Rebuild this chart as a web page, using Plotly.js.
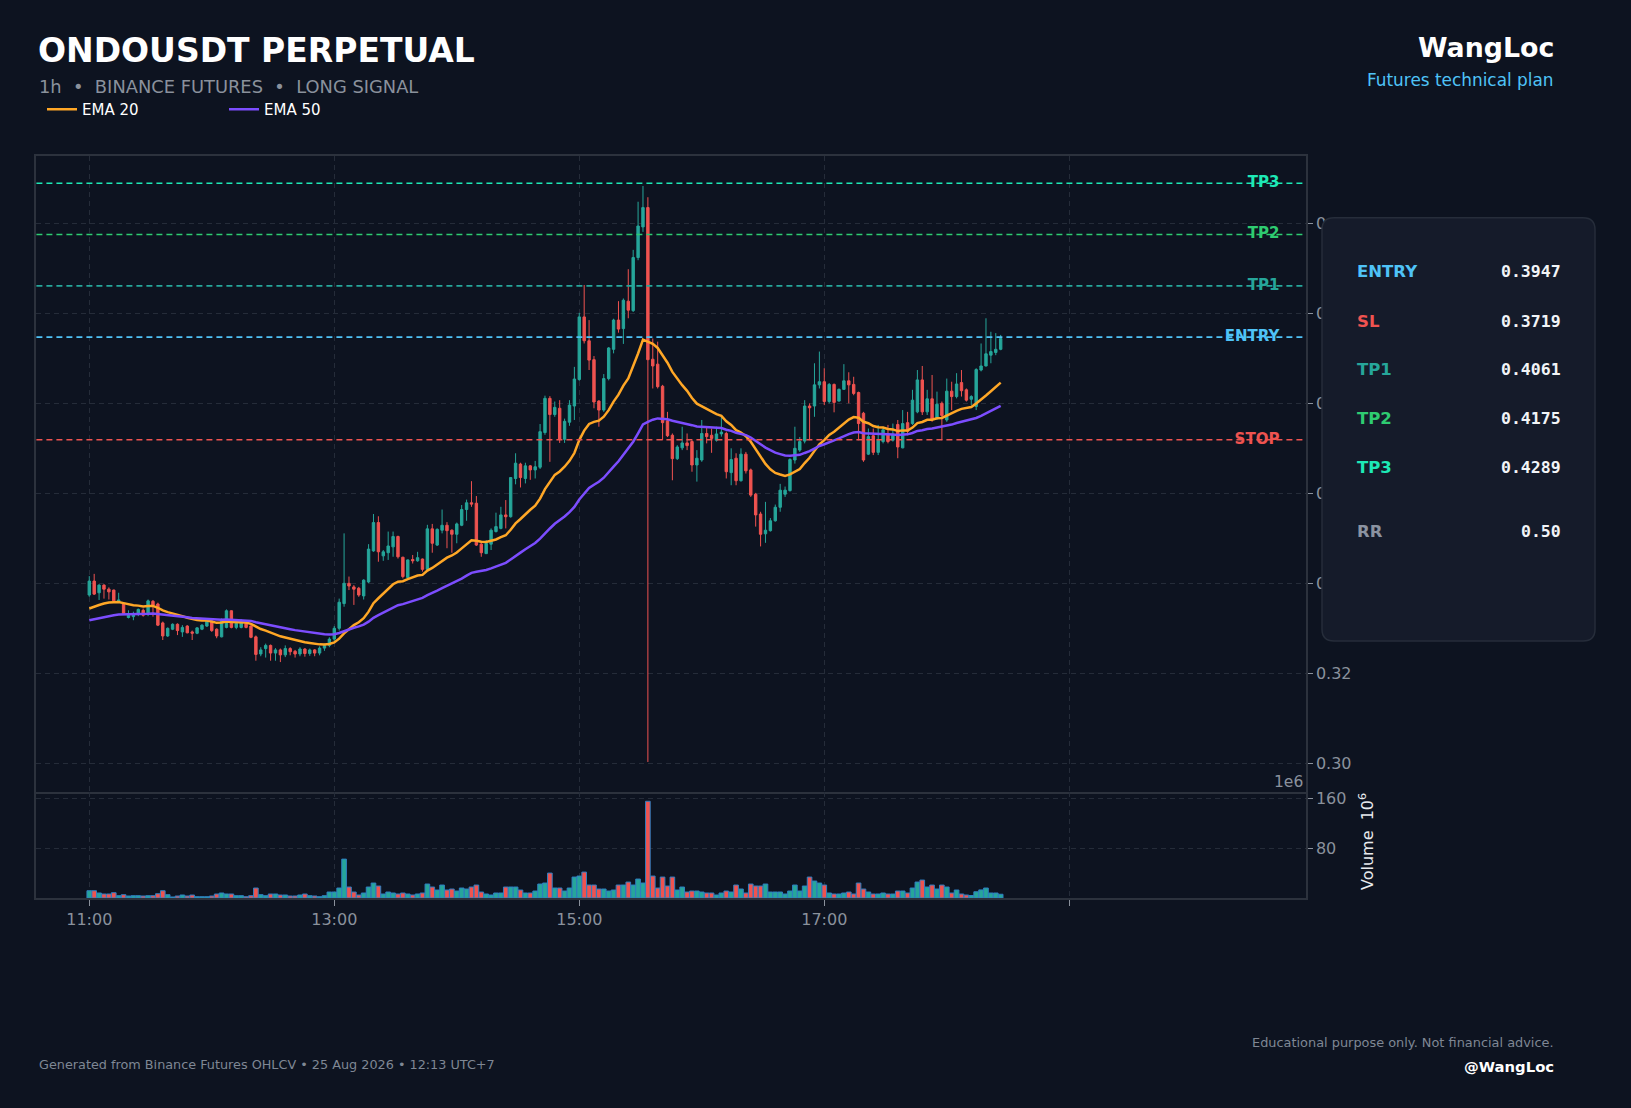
<!DOCTYPE html>
<html>
<head>
<meta charset="utf-8">
<script src="https://cdn.plot.ly/plotly-3.0.1.min.js"></script>
<style>
html,body{margin:0;padding:0;background:#0d1320;}
#chart{width:1631px;height:1108px;}
</style>
</head>
<body>
<div id="chart"></div>
<script>
// ---------------- DATA ----------------
const openP = [0.3374,0.3405,0.3379,0.3396,0.3387,0.3385,0.3360,0.3354,0.3324,0.3326,
0.3333,0.3340,0.3332,0.3360,0.3354,0.3312,0.3283,0.3298,0.3309,0.3292,
0.3305,0.3292,0.3289,0.3298,0.3305,0.3316,0.3298,0.3281,0.3302,0.3339,
0.3302,0.3302,0.3311,0.3305,0.3281,0.3243,0.3255,0.3262,0.3245,0.3252,
0.3241,0.3255,0.3249,0.3243,0.3254,0.3244,0.3252,0.3245,0.3256,0.3262,
0.3276,0.3300,0.3355,0.3400,0.3392,0.3389,0.3372,0.3403,0.3472,0.3535,
0.3461,0.3468,0.3481,0.3504,0.3458,0.3413,0.3453,0.3450,0.3454,0.3431,
0.3521,0.3485,0.3518,0.3529,0.3518,0.3509,0.3529,0.3564,0.3579,0.3578,
0.3487,0.3466,0.3487,0.3515,0.3522,0.3552,0.3548,0.3633,0.3665,0.3633,
0.3661,0.3652,0.3658,0.3735,0.3811,0.3775,0.3789,0.3720,0.3758,0.3794,
0.3853,0.3992,0.3939,0.3897,0.3805,0.3785,0.3855,0.3920,0.3985,0.3966,
0.4027,0.4006,0.4124,0.4192,0.4235,0.3898,0.3887,0.3838,0.3761,0.3729,
0.3677,0.3701,0.3712,0.3715,0.3663,0.3674,0.3733,0.3729,0.3718,0.3732,
0.3733,0.3646,0.3678,0.3628,0.3687,0.3652,0.3598,0.3554,0.3510,0.3517,
0.3539,0.3569,0.3598,0.3606,0.3674,0.3696,0.3716,0.3794,0.3794,0.3841,
0.3848,0.3804,0.3842,0.3805,0.3831,0.3850,0.3842,0.3824,0.3778,0.3687,
0.3728,0.3691,0.3715,0.3733,0.3718,0.3753,0.3701,0.3757,0.3755,0.3781,
0.3852,0.3781,0.3810,0.3768,0.3800,0.3763,0.3827,0.3815,0.3846,0.3830,
0.3809,0.3793,0.3874,0.3883,0.3907,0.3913,0.3920];
const highP = [0.3416,0.3421,0.3398,0.3398,0.3391,0.3386,0.3379,0.3357,0.3340,0.3337,
0.3344,0.3344,0.3364,0.3363,0.3357,0.3315,0.3302,0.3311,0.3311,0.3307,
0.3307,0.3295,0.3302,0.3309,0.3320,0.3318,0.3300,0.3322,0.3342,0.3340,
0.3315,0.3320,0.3315,0.3307,0.3284,0.3258,0.3266,0.3264,0.3256,0.3255,
0.3262,0.3258,0.3252,0.3258,0.3256,0.3255,0.3254,0.3260,0.3266,0.3280,
0.3305,0.3366,0.3511,0.3415,0.3396,0.3392,0.3409,0.3487,0.3554,0.3549,
0.3474,0.3515,0.3515,0.3506,0.3459,0.3453,0.3463,0.3470,0.3455,0.3530,
0.3532,0.3522,0.3564,0.3536,0.3520,0.3535,0.3574,0.3586,0.3627,0.3594,
0.3492,0.3496,0.3522,0.3557,0.3570,0.3585,0.3636,0.3689,0.3668,0.3668,
0.3663,0.3672,0.3754,0.3817,0.3816,0.3804,0.3807,0.3766,0.3807,0.3881,
0.4001,0.4063,0.3985,0.3905,0.3807,0.3865,0.3925,0.3988,0.4027,0.4033,
0.4098,0.4141,0.4248,0.4283,0.4258,0.3944,0.3937,0.3841,0.3781,0.3733,
0.3707,0.3748,0.3733,0.3718,0.3696,0.3763,0.3748,0.3744,0.3748,0.3772,
0.3737,0.3700,0.3689,0.3700,0.3692,0.3655,0.3601,0.3559,0.3581,0.3545,
0.3575,0.3621,0.3615,0.3678,0.3748,0.3725,0.3807,0.3800,0.3889,0.3915,
0.3878,0.3845,0.3844,0.3833,0.3887,0.3869,0.3859,0.3826,0.3781,0.3744,
0.3744,0.3752,0.3748,0.3752,0.3755,0.3763,0.3785,0.3781,0.3830,0.3874,
0.3883,0.3830,0.3863,0.3826,0.3804,0.3855,0.3848,0.3867,0.3874,0.3833,
0.3818,0.3878,0.3933,0.3989,0.3959,0.3956,0.3952];
const lowP = [0.3370,0.3374,0.3363,0.3366,0.3364,0.3359,0.3357,0.3332,0.3322,0.3318,
0.3327,0.3326,0.3327,0.3326,0.3305,0.3274,0.3281,0.3296,0.3285,0.3281,
0.3289,0.3274,0.3287,0.3296,0.3303,0.3292,0.3278,0.3280,0.3300,0.3300,
0.3298,0.3300,0.3300,0.3278,0.3228,0.3238,0.3235,0.3228,0.3228,0.3225,
0.3236,0.3240,0.3235,0.3238,0.3237,0.3239,0.3238,0.3240,0.3250,0.3258,
0.3272,0.3295,0.3348,0.3385,0.3352,0.3370,0.3364,0.3400,0.3470,0.3448,
0.3450,0.3452,0.3459,0.3455,0.3411,0.3411,0.3444,0.3448,0.3426,0.3429,
0.3468,0.3483,0.3511,0.3478,0.3468,0.3489,0.3527,0.3539,0.3570,0.3483,
0.3459,0.3465,0.3474,0.3513,0.3520,0.3522,0.3546,0.3620,0.3613,0.3622,
0.3630,0.3633,0.3654,0.3730,0.3670,0.3770,0.3712,0.3712,0.3750,0.3763,
0.3850,0.3933,0.3874,0.3789,0.3748,0.3781,0.3851,0.3911,0.3957,0.3932,
0.3989,0.4003,0.4118,0.4181,0.3003,0.3833,0.3833,0.3718,0.3725,0.3629,
0.3674,0.3696,0.3696,0.3648,0.3626,0.3670,0.3711,0.3690,0.3715,0.3726,
0.3633,0.3618,0.3618,0.3626,0.3644,0.3592,0.3526,0.3482,0.3490,0.3515,
0.3537,0.3559,0.3592,0.3604,0.3666,0.3692,0.3711,0.3718,0.3770,0.3833,
0.3796,0.3800,0.3780,0.3804,0.3830,0.3800,0.3818,0.3718,0.3670,0.3685,
0.3685,0.3685,0.3711,0.3711,0.3715,0.3678,0.3700,0.3729,0.3752,0.3778,
0.3774,0.3774,0.3759,0.3763,0.3718,0.3759,0.3785,0.3811,0.3815,0.3804,
0.3796,0.3785,0.3871,0.3882,0.3889,0.3907,0.3918];
const closeP = [0.3405,0.3376,0.3396,0.3387,0.3381,0.3361,0.3363,0.3333,0.3329,0.3332,
0.3342,0.3329,0.3361,0.3351,0.3307,0.3283,0.3300,0.3309,0.3295,0.3302,
0.3290,0.3289,0.3301,0.3307,0.3318,0.3295,0.3283,0.3318,0.3339,0.3302,
0.3311,0.3318,0.3302,0.3280,0.3242,0.3252,0.3262,0.3245,0.3252,0.3241,
0.3255,0.3248,0.3243,0.3254,0.3244,0.3252,0.3245,0.3256,0.3262,0.3276,
0.3300,0.3358,0.3400,0.3394,0.3387,0.3374,0.3407,0.3476,0.3535,0.3470,
0.3470,0.3483,0.3504,0.3459,0.3415,0.3452,0.3450,0.3457,0.3431,0.3521,
0.3489,0.3520,0.3529,0.3517,0.3509,0.3532,0.3564,0.3579,0.3576,0.3485,
0.3468,0.3489,0.3518,0.3526,0.3552,0.3548,0.3635,0.3667,0.3635,0.3661,
0.3652,0.3659,0.3737,0.3811,0.3775,0.3791,0.3720,0.3760,0.3796,0.3854,
0.3992,0.3939,0.3896,0.3803,0.3785,0.3855,0.3923,0.3985,0.3965,0.4029,
0.4007,0.4124,0.4194,0.4235,0.3897,0.3883,0.3837,0.3757,0.3728,0.3677,
0.3703,0.3712,0.3706,0.3663,0.3678,0.3733,0.3726,0.3722,0.3732,0.3736,
0.3648,0.3675,0.3628,0.3687,0.3650,0.3596,0.3552,0.3509,0.3518,0.3539,
0.3569,0.3607,0.3607,0.3675,0.3700,0.3715,0.3794,0.3790,0.3841,0.3848,
0.3804,0.3842,0.3802,0.3831,0.3850,0.3841,0.3822,0.3755,0.3674,0.3726,
0.3691,0.3718,0.3741,0.3715,0.3731,0.3703,0.3755,0.3738,0.3807,0.3852,
0.3781,0.3810,0.3765,0.3798,0.3773,0.3827,0.3815,0.3843,0.3828,0.3807,
0.3815,0.3875,0.3883,0.3910,0.3915,0.3920,0.3944];
// volume in millions
const volumeM = [11.7,11.7,8,6.4,6.4,8.5,3.7,5.3,3.2,3.7,
3.7,3.2,3.7,3.7,6.9,11.7,5.3,1.6,3.2,4.8,
3.2,4.8,2.1,2.1,2.1,3.2,6.4,8,6.4,6.4,
3.7,3.7,2.1,3.7,16,5.3,3.7,6.4,6.4,4.8,
4.8,3.2,3.2,4.8,6.4,3.7,3.2,2.1,3.7,9.6,
9.6,16,62.4,17.6,9.6,4.8,8,17.6,24,19.2,
6.4,9.6,8,6.4,8,6.4,4.8,6.4,8,22.4,
17.6,12.8,20.8,12.8,14.4,11.2,16,14.4,17.6,20.8,
9.6,6.4,4.8,8,8,17.6,17.6,17.6,12.8,8,
8,11.2,22.4,24,40,16,16,11.2,16,33.6,
35.2,41.6,20.8,20.8,14.4,14.4,11.2,12.8,20.8,20.8,
25.6,20.8,30.4,24,155.2,35.2,16,33.6,19.2,33.6,
12.8,17.6,9.6,11.2,11.2,9.6,8,8,4.8,8,
11.2,9.6,20.8,14.4,8,22.4,19.2,19.2,22.4,9.6,
9.6,9.6,6.4,11.2,20.8,11.2,19.2,33.6,27.2,24,
20.8,8,6.4,6.4,8,9.6,6.4,24,14.4,9.6,
6.4,6.4,8,6.4,6.4,11.2,11.2,8,16,25.6,
28.8,17.6,20.8,14.4,20.8,17.6,8,12.8,6.4,4.8,
4,10,13,16,8,8,6];
// EMA values just before the visible window (read at the left edge)
const ema20Start = 0.3344;
const ema50Start = 0.3318;

// Trade levels
const levelNames  = ['TP3','TP2','TP1','ENTRY','STOP'];
const levelValues = [0.4289, 0.4175, 0.4061, 0.3947, 0.3719];
// Info panel
const panelLabels = ['ENTRY','SL','TP1','TP2','TP3','RR'];
const panelValues = ['0.3947','0.3719','0.4061','0.4175','0.4289','0.50'];
// Axis ticks
const priceTicks = [0.30,0.32,0.34,0.36,0.38,0.40,0.42];
const volTicks = [80,160];
const hourTickLabels = ['11:00','13:00','15:00','17:00',''];
const hourTickTimes = ['2026-08-25 11:00:00','2026-08-25 13:00:00','2026-08-25 15:00:00','2026-08-25 17:00:00','2026-08-25 19:00:00'];

// ---------------- BUILD ----------------
const t0 = Date.UTC(2026,7,25,11,0,0);
const stepMs = 144000; // one bar
function fmt(ms){ return new Date(ms).toISOString().slice(0,19).replace('T',' '); }
const times = openP.map((_, i) => fmt(t0 + i*stepMs));

function ema(src, start, n){
  const a = 2/(n+1); const out = []; let prev = start;
  for (let i=0;i<src.length;i++){ prev = (i===0) ? start : prev + a*(src[i]-prev); out.push(prev); }
  return out;
}
const ema20 = ema(closeP, ema20Start, 20);
const ema50 = ema(closeP, ema50Start, 50);

const UP = '#26a69a', DOWN = '#ef5350';
const levelColors = ['#1de9b6','#2ecc71','#26a69a','#4fc3f7','#ef5350'];
const panelColors = ['#4fc3f7','#ef5350','#26a69a','#2ecc71','#1de9b6','#8b93a1'];
const volColors = closeP.map((c,i) => c >= openP[i] ? UP : DOWN);

const BG = '#0d1320', GRID = '#252c39', FRAME = '#2c323d', TICK = '#8a919c';
const W = 1631, H = 1108;
const px = v => v / W, py = v => 1 - v / H;

const xStartMs = t0 - 1554*1000, xEndMs = t0 + 35748*1000;
const xRange = [fmt(xStartMs), fmt(xEndMs)];
const xDom = [px(36.4), px(1305.7)];
// label anchor near the right end of the price panel
const labelX = fmt(xStartMs + 0.9793*(xEndMs - xStartMs));

const traces = [
  {type:'candlestick', x:times, open:openP, high:highP, low:lowP, close:closeP,
   xaxis:'x', yaxis:'y', showlegend:false, hoverinfo:'skip', whiskerwidth:0,
   increasing:{line:{color:UP,width:1}, fillcolor:UP},
   decreasing:{line:{color:DOWN,width:1}, fillcolor:DOWN}},
  {type:'scatter', mode:'lines', x:times, y:ema20, name:'EMA 20', xaxis:'x', yaxis:'y',
   line:{color:'#ffa726', width:2.5}, hoverinfo:'skip'},
  {type:'scatter', mode:'lines', x:times, y:ema50, name:'EMA 50', xaxis:'x', yaxis:'y',
   line:{color:'#7c4dff', width:2.5}, hoverinfo:'skip'},
  {type:'scatter', mode:'text', x:levelNames.map(() => labelX), y:levelValues, text:levelNames,
   textposition:'middle left', xaxis:'x', yaxis:'y', showlegend:false, hoverinfo:'skip',
   textfont:{family:'DejaVu Sans', size:15, weight:'bold', color:levelColors}},
  {type:'bar', x:times, y:volumeM, xaxis:'x2', yaxis:'y2', showlegend:false, hoverinfo:'skip',
   marker:{color:volColors, line:{color:'#2f7fc1', width:1}}}
];

const shapes = [];
const annotations = [];
levelNames.forEach((n,i) => {
  shapes.push({type:'line', xref:'x domain', yref:'y', x0:0, x1:1, y0:levelValues[i], y1:levelValues[i],
    line:{color:levelColors[i], width:1.6, dash:'6px,4px'}, layer:'above'});
});

// info panel (rounded rectangle)
const x0 = px(1322), x1 = px(1595), yT = py(217.7), yB = py(641);
const rx = 12/W, ry = 12/H;
shapes.push({type:'path', xref:'paper', yref:'paper', layer:'above',
  path:`M${x0+rx},${yT} L${x1-rx},${yT} Q${x1},${yT} ${x1},${yT-ry} L${x1},${yB+ry} Q${x1},${yB} ${x1-rx},${yB} L${x0+rx},${yB} Q${x0},${yB} ${x0},${yB+ry} L${x0},${yT-ry} Q${x0},${yT} ${x0+rx},${yT} Z`,
  fillcolor:'#151b2a', line:{color:'#262d3a', width:1.5}});
const rowY = [272, 321.5, 369.5, 418, 467, 532];
panelLabels.forEach((l,i) => {
  annotations.push({xref:'paper', yref:'paper', x:px(1355), y:py(rowY[i]), xanchor:'left', yanchor:'middle',
    text:'<b>'+l+'</b>', showarrow:false, font:{family:'DejaVu Sans', size:16.5, color:panelColors[i]}});
  annotations.push({xref:'paper', yref:'paper', x:px(1563), y:py(rowY[i]), xanchor:'right', yanchor:'middle',
    text:'<b>'+panelValues[i]+'</b>', showarrow:false, font:{family:'DejaVu Sans Mono', size:16.5, color:'#f2f4f7'}});
});

// header / footer texts
annotations.push(
  {xref:'paper', yref:'paper', x:px(37), y:py(86.5), xanchor:'left', yanchor:'middle', showarrow:false,
   text:'1h  •  BINANCE FUTURES  •  LONG SIGNAL', font:{family:'DejaVu Sans', size:17.85, color:'#8a919c'}},
  {xref:'paper', yref:'paper', x:px(1556), y:py(47), xanchor:'right', yanchor:'middle', showarrow:false,
   text:'<b>WangLoc</b>', font:{family:'DejaVu Sans', size:26.8, color:'#ffffff'}},
  {xref:'paper', yref:'paper', x:px(1556), y:py(80), xanchor:'right', yanchor:'middle', showarrow:false,
   text:'Futures technical plan', font:{family:'DejaVu Sans', size:16.9, color:'#4fc3f7'}},
  {xref:'paper', yref:'paper', x:px(37), y:py(1064.5), xanchor:'left', yanchor:'middle', showarrow:false,
   text:'Generated from Binance Futures OHLCV • 25 Aug 2026 • 12:13 UTC+7', font:{family:'DejaVu Sans', size:12.8, color:'#7f8794'}},
  {xref:'paper', yref:'paper', x:px(1556), y:py(1042.5), xanchor:'right', yanchor:'middle', showarrow:false,
   text:'Educational purpose only. Not financial advice.', font:{family:'DejaVu Sans', size:12.9, color:'#7f8794'}},
  {xref:'paper', yref:'paper', x:px(1556), y:py(1066), xanchor:'right', yanchor:'middle', showarrow:false,
   text:'<b>@WangLoc</b>', font:{family:'DejaVu Sans', size:14.8, color:'#ffffff'}},
  {xref:'paper', yref:'paper', x:px(1305), y:py(781.7), xanchor:'right', yanchor:'middle', showarrow:false,
   text:'1e6', font:{family:'DejaVu Sans', size:15.5, color:TICK}},
  {xref:'paper', yref:'paper', x:px(1366), y:py(842), xanchor:'center', yanchor:'middle', showarrow:false, textangle:-90,
   text:'Volume  10<sup>6</sup>', font:{family:'DejaVu Sans', size:16, color:'#e8eaee'}}
);

const axisCommon = {showline:true, linecolor:FRAME, linewidth:2, mirror:true, zeroline:false,
  showgrid:true, gridcolor:GRID, gridwidth:1, griddash:'5px,4px',
  tickfont:{family:'DejaVu Sans', size:16, color:TICK}, tickcolor:TICK};

const layout = {
  width:W, height:H, margin:{l:0,r:0,t:0,b:0},
  paper_bgcolor:BG, plot_bgcolor:BG,
  font:{family:'DejaVu Sans', color:TICK},
  title:{text:'<b>ONDOUSDT PERPETUAL</b>', xref:'paper', yref:'paper', x:px(38), xanchor:'left',
         y:py(50), yanchor:'middle', font:{family:'DejaVu Sans', size:33, color:'#ffffff'}},
  showlegend:true,
  legend:{orientation:'h', x:px(42), y:py(109.5), xanchor:'left', yanchor:'middle',
          bgcolor:'rgba(0,0,0,0)', font:{family:'DejaVu Sans', size:15, color:'#ffffff'},
          entrywidth:137, entrywidthmode:'pixels'},
  bargap:0.05,
  xaxis:Object.assign({}, axisCommon, {domain:xDom, anchor:'y', type:'date', range:xRange,
     rangeslider:{visible:false}, tickvals:hourTickTimes, ticktext:hourTickLabels, showticklabels:false, ticks:''}),
  xaxis2:Object.assign({}, axisCommon, {domain:xDom, anchor:'y2', type:'date', range:xRange, matches:'x', mirror:false,
     tickvals:hourTickTimes, ticktext:hourTickLabels, ticks:'outside', ticklen:6}),
  yaxis:Object.assign({}, axisCommon, {domain:[py(792.3), py(156)], anchor:'x', side:'right',
     range:[0.29356, 0.43496], tickvals:priceTicks, tickformat:'.2f', ticks:'outside', ticklen:5}),
  yaxis2:Object.assign({}, axisCommon, {domain:[py(898), py(792.3)], anchor:'x2', side:'right',
     range:[0, 169.6], tickvals:volTicks, ticks:'outside', ticklen:5}),
  shapes:shapes, annotations:annotations
};

Plotly.newPlot('chart', traces, layout, {staticPlot:true, displayModeBar:false});
</script>
</body>
</html>
